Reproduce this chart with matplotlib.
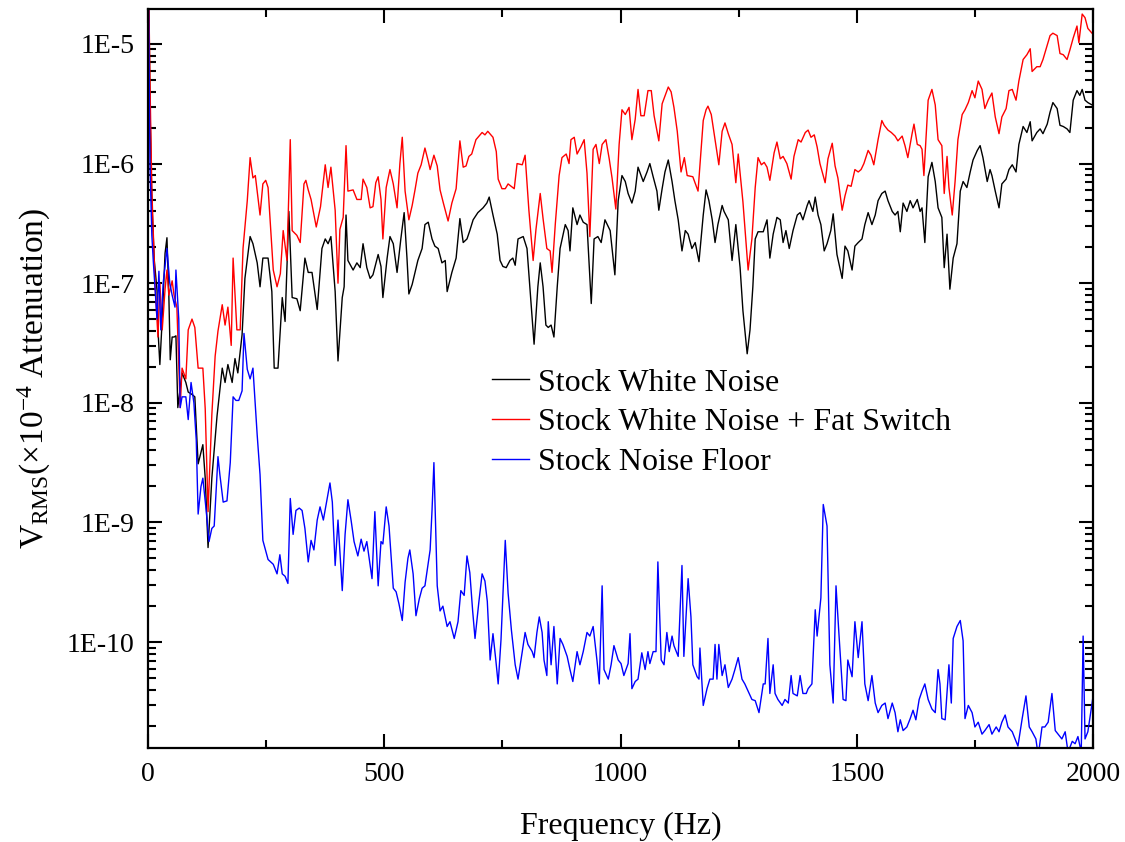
import numpy as np
import matplotlib
matplotlib.use('Agg')
import matplotlib.pyplot as plt
from matplotlib.ticker import LogLocator, NullFormatter, FuncFormatter, MultipleLocator

plt.rcParams['font.family'] = ['Liberation Serif', 'DejaVu Serif']
plt.rcParams['mathtext.fontset'] = 'custom'
plt.rcParams['mathtext.rm'] = 'Liberation Serif'
plt.rcParams['mathtext.it'] = 'Liberation Serif:italic'

# frequencies (Hz) and log10(V_RMS)
black_f = [0, 2, 4, 8, 13, 19, 21, 25, 30, 36,
           40, 44, 47, 51, 55, 59, 63, 72, 80, 85,
           93, 99, 106, 116, 121, 127, 135, 146, 157, 163,
           169, 178, 184, 190, 199, 205, 216, 222, 231, 237,
           243, 254, 262, 267, 275, 284, 290, 298, 305, 315,
           322, 332, 339, 347, 358, 368, 375, 381, 387, 396,
           402, 411, 415, 419, 423, 434, 442, 449, 455, 463,
           470, 476, 487, 493, 497, 506, 512, 519, 527, 535,
           542, 548, 552, 559, 565, 571, 580, 586, 593, 601,
           607, 614, 622, 629, 633, 643, 652, 660, 667, 675,
           681, 688, 698, 709, 717, 722, 730, 739, 745, 751,
           758, 766, 772, 777, 783, 794, 802, 808, 817, 825,
           830, 836, 842, 847, 853, 859, 866, 872, 883, 889,
           893, 899, 908, 914, 921, 929, 938, 944, 952, 959,
           967, 978, 988, 995, 1003, 1010, 1016, 1024, 1031, 1037,
           1048, 1056, 1062, 1069, 1077, 1081, 1088, 1094, 1101, 1109,
           1115, 1122, 1130, 1137, 1143, 1151, 1158, 1166, 1175, 1181,
           1187, 1194, 1200, 1206, 1215, 1219, 1228, 1236, 1244, 1253,
           1259, 1268, 1274, 1280, 1285, 1291, 1302, 1310, 1316, 1323,
           1331, 1338, 1344, 1350, 1357, 1365, 1374, 1380, 1386, 1395,
           1399, 1407, 1412, 1418, 1424, 1431, 1437, 1445, 1450, 1458,
           1469, 1475, 1481, 1490, 1496, 1503, 1511, 1517, 1524, 1532,
           1539, 1545, 1553, 1560, 1566, 1575, 1581, 1587, 1592, 1598,
           1606, 1613, 1619, 1628, 1634, 1638, 1644, 1651, 1659, 1666,
           1672, 1680, 1685, 1691, 1697, 1704, 1712, 1719, 1725, 1733,
           1740, 1746, 1755, 1761, 1767, 1776, 1782, 1786, 1793, 1801,
           1807, 1816, 1822, 1829, 1837, 1843, 1852, 1860, 1867, 1871,
           1881, 1888, 1894, 1903, 1909, 1915, 1924, 1930, 1937, 1945,
           1951, 1958, 1966, 1972, 1977, 1983, 1989, 1998, 2000]
black_lg = [-4.3, -4.7, -5.5, -6.31, -6.8, -7.06, -7.39, -7.68, -7.3, -6.75,
            -6.62, -7.1, -7.64, -7.45, -7.45, -7.44, -8.04, -7.75, -7.83, -7.91,
            -7.93, -7.95, -8.51, -8.35, -8.63, -9.21, -8.63, -8.11, -7.71, -7.83,
            -7.68, -7.83, -7.63, -7.75, -7.43, -6.96, -6.61, -6.67, -6.83, -7.03,
            -6.79, -6.79, -7.07, -7.71, -7.71, -7.12, -7.32, -6.40, -7.12, -7.13,
            -7.23, -6.79, -6.91, -6.91, -7.22, -6.71, -6.63, -6.67, -6.61, -7.07,
            -7.65, -7.12, -7.03, -6.43, -6.81, -6.89, -6.83, -6.87, -6.67, -6.87,
            -6.96, -6.93, -6.76, -6.86, -7.12, -6.79, -6.61, -6.67, -6.91, -6.63,
            -6.41, -6.79, -7.09, -7.01, -6.91, -6.81, -6.71, -6.51, -6.49, -6.63,
            -6.69, -6.71, -6.83, -6.81, -7.07, -6.91, -6.79, -6.46, -6.66, -6.63,
            -6.56, -6.47, -6.41, -6.37, -6.33, -6.28, -6.43, -6.59, -6.81, -6.86,
            -6.87, -6.81, -6.79, -6.85, -6.63, -6.61, -6.71, -7.03, -7.51, -7.03,
            -6.83, -7.03, -7.35, -7.37, -7.35, -7.45, -7.03, -6.71, -6.51, -6.56,
            -6.73, -6.37, -6.51, -6.43, -6.49, -6.51, -7.17, -6.63, -6.61, -6.66,
            -6.47, -6.56, -6.93, -6.31, -6.10, -6.15, -6.25, -6.33, -6.23, -6.03,
            -6.15, -6.07, -6.00, -6.11, -6.23, -6.39, -6.21, -6.07, -5.97, -6.15,
            -6.31, -6.47, -6.73, -6.56, -6.59, -6.71, -6.66, -6.82, -6.43, -6.22,
            -6.31, -6.47, -6.66, -6.51, -6.35, -6.40, -6.47, -6.81, -6.51, -6.87,
            -7.23, -7.59, -7.39, -7.03, -6.63, -6.57, -6.57, -6.47, -6.79, -6.59,
            -6.45, -6.47, -6.66, -6.56, -6.71, -6.56, -6.43, -6.41, -6.47, -6.35,
            -6.31, -6.40, -6.28, -6.43, -6.51, -6.73, -6.67, -6.56, -6.42, -6.76,
            -6.96, -6.69, -6.73, -6.89, -6.69, -6.66, -6.63, -6.51, -6.41, -6.51,
            -6.43, -6.31, -6.25, -6.23, -6.31, -6.40, -6.43, -6.40, -6.57, -6.33,
            -6.40, -6.31, -6.37, -6.30, -6.40, -6.37, -6.66, -6.11, -5.99, -6.15,
            -6.37, -6.45, -6.87, -6.59, -7.05, -6.79, -6.67, -6.23, -6.15, -6.20,
            -6.07, -5.97, -5.89, -5.85, -5.95, -6.15, -6.05, -6.10, -6.23, -6.37,
            -6.17, -6.13, -6.05, -6.01, -6.07, -5.84, -5.69, -5.74, -5.65, -5.81,
            -5.74, -5.71, -5.75, -5.67, -5.57, -5.49, -5.54, -5.68, -5.69, -5.71,
            -5.74, -5.47, -5.39, -5.43, -5.38, -5.47, -5.49, -5.51, -5.50]

red_f = [0, 2, 4, 8, 15, 21, 25, 30, 36, 40,
         44, 51, 55, 61, 68, 72, 80, 85, 93, 99,
         106, 116, 121, 127, 135, 142, 148, 157, 163, 169,
         176, 180, 188, 195, 201, 210, 216, 222, 227, 237,
         243, 249, 254, 265, 273, 280, 286, 294, 301, 305,
         315, 322, 330, 334, 339, 345, 356, 365, 375, 381,
         387, 396, 402, 406, 413, 419, 423, 434, 442, 451,
         455, 463, 470, 476, 482, 487, 493, 497, 504, 512,
         519, 527, 533, 538, 544, 552, 559, 565, 571, 578,
         586, 593, 597, 605, 612, 618, 625, 635, 643, 652,
         660, 667, 673, 679, 685, 694, 707, 713, 719, 730,
         737, 741, 749, 756, 762, 775, 781, 792, 798, 806,
         815, 821, 830, 836, 844, 851, 855, 862, 870, 876,
         885, 891, 895, 902, 908, 916, 923, 929, 935, 942,
         948, 955, 961, 969, 976, 982, 990, 997, 1003, 1010,
         1018, 1024, 1031, 1037, 1043, 1050, 1058, 1065, 1071, 1081,
         1088, 1101, 1107, 1113, 1120, 1128, 1135, 1141, 1153, 1164,
         1175, 1181, 1185, 1192, 1200, 1208, 1215, 1221, 1228, 1236,
         1244, 1249, 1259, 1266, 1270, 1278, 1285, 1291, 1298, 1304,
         1310, 1316, 1325, 1331, 1338, 1344, 1352, 1361, 1367, 1376,
         1382, 1391, 1397, 1403, 1410, 1416, 1422, 1433, 1439, 1448,
         1454, 1460, 1469, 1475, 1481, 1488, 1496, 1503, 1509, 1515,
         1524, 1530, 1536, 1545, 1553, 1558, 1566, 1573, 1581, 1587,
         1596, 1602, 1608, 1617, 1621, 1628, 1634, 1638, 1642, 1651,
         1659, 1666, 1672, 1680, 1685, 1691, 1695, 1702, 1708, 1714,
         1723, 1729, 1736, 1744, 1750, 1757, 1765, 1771, 1778, 1786,
         1793, 1801, 1807, 1816, 1822, 1829, 1837, 1843, 1852, 1860,
         1867, 1871, 1881, 1888, 1894, 1903, 1909, 1915, 1924, 1930,
         1937, 1945, 1951, 1958, 1966, 1970, 1977, 1983, 1989, 1998,
         2000]
red_lg = [-4.3, -4.7, -5.3, -6.22, -7.03, -7.45, -7.0, -7.39, -7.05, -6.89,
          -7.1, -6.98, -7.1, -7.2, -8.04, -7.71, -7.8, -7.39, -7.30, -7.37,
          -7.71, -7.71, -8.05, -8.91, -8.1, -7.61, -7.4, -7.18, -7.35, -7.2,
          -7.52, -6.79, -7.39, -7.39, -6.71, -6.31, -5.95, -6.12, -6.1, -6.43,
          -6.17, -6.14, -6.2, -6.89, -7.03, -6.92, -6.56, -6.81, -5.80, -6.56,
          -6.6, -6.66, -6.17, -6.14, -6.22, -6.3, -6.53, -6.36, -6.01, -6.2,
          -6.03, -6.39, -7.0, -6.55, -6.45, -5.85, -6.23, -6.22, -6.3, -6.30,
          -6.13, -6.2, -6.37, -6.36, -6.16, -6.11, -6.3, -6.63, -6.2, -6.05,
          -6.17, -6.37, -6.0, -5.78, -6.23, -6.47, -6.35, -6.22, -6.08, -6.01,
          -5.87, -5.98, -6.05, -5.93, -6.02, -6.22, -6.33, -6.48, -6.33, -6.21,
          -5.81, -6.03, -6.02, -5.94, -5.92, -5.80, -5.74, -5.76, -5.73, -5.78,
          -5.9, -6.13, -6.21, -6.21, -6.17, -6.21, -6.00, -6.01, -5.93, -6.39,
          -6.81, -6.55, -6.25, -6.46, -6.71, -6.73, -6.91, -6.5, -6.10, -5.95,
          -5.92, -6.0, -5.8, -5.78, -5.92, -5.86, -5.80, -6.08, -6.61, -5.88,
          -5.84, -6.0, -5.84, -5.80, -5.96, -6.12, -6.38, -5.84, -5.55, -5.59,
          -5.53, -5.80, -5.63, -5.38, -5.6, -5.6, -5.39, -5.39, -5.6, -5.81,
          -5.5, -5.36, -5.4, -5.53, -5.73, -6.07, -5.95, -6.1, -6.11, -6.23,
          -5.64, -5.55, -5.52, -5.59, -5.8, -6.01, -5.73, -5.66, -5.75, -5.84,
          -6.16, -5.92, -6.32, -6.68, -6.89, -6.63, -6.2, -5.95, -6.01, -5.99,
          -6.03, -6.14, -5.91, -5.82, -5.96, -5.94, -6.0, -6.13, -5.94, -5.80,
          -5.82, -5.74, -5.72, -5.78, -5.76, -5.86, -6.0, -6.16, -5.96, -5.83,
          -6.02, -6.12, -6.39, -6.27, -6.18, -6.19, -6.05, -6.07, -6.05, -6.0,
          -5.89, -5.93, -6.01, -5.80, -5.64, -5.68, -5.72, -5.74, -5.77, -5.81,
          -5.77, -5.85, -5.95, -5.75, -5.67, -5.84, -5.85, -5.88, -6.10, -5.47,
          -5.38, -5.51, -5.80, -5.85, -6.25, -5.94, -6.20, -6.43, -6.15, -5.80,
          -5.59, -5.55, -5.49, -5.39, -5.45, -5.31, -5.38, -5.54, -5.47, -5.41,
          -5.61, -5.75, -5.61, -5.54, -5.39, -5.38, -5.47, -5.31, -5.13, -5.09,
          -5.04, -5.23, -5.19, -5.19, -5.13, -5.01, -4.93, -4.91, -4.93, -5.08,
          -5.09, -5.13, -5.05, -4.95, -4.85, -4.99, -4.75, -4.78, -4.87, -4.91,
          -4.92]

blue_f = [0, 2, 4, 8, 11, 19, 23, 27, 32, 40,
          46, 51, 57, 59, 65, 68, 72, 80, 85, 91,
          97, 102, 106, 112, 116, 123, 129, 135, 140, 148,
          152, 159, 167, 174, 180, 186, 192, 199, 203, 210,
          216, 222, 231, 237, 243, 254, 265, 273, 279, 284,
          290, 296, 301, 307, 313, 320, 326, 332, 339, 345,
          351, 358, 364, 371, 385, 390, 396, 402, 411, 417,
          423, 430, 436, 444, 451, 457, 463, 474, 480, 487,
          493, 497, 504, 510, 519, 525, 531, 538, 544, 550,
          554, 561, 567, 574, 580, 586, 597, 601, 605, 612,
          618, 624, 633, 639, 648, 656, 662, 669, 675, 681,
          687, 692, 700, 707, 713, 718, 724, 730, 736, 741,
          747, 756, 762, 769, 777, 783, 792, 798, 804, 813,
          817, 823, 828, 834, 838, 844, 847, 853, 859, 866,
          872, 878, 887, 893, 899, 908, 914, 921, 929, 935,
          942, 950, 955, 961, 965, 974, 980, 986, 995, 1001,
          1007, 1016, 1020, 1024, 1031, 1037, 1045, 1052, 1058, 1062,
          1069, 1075, 1079, 1086, 1092, 1098, 1103, 1109, 1113, 1122,
          1130, 1134, 1143, 1149, 1153, 1162, 1166, 1168, 1175, 1183,
          1189, 1196, 1200, 1204, 1208, 1215, 1221, 1228, 1236, 1242,
          1249, 1257, 1263, 1270, 1278, 1285, 1293, 1302, 1306, 1312,
          1316, 1323, 1327, 1333, 1342, 1348, 1355, 1361, 1365, 1374,
          1380, 1386, 1393, 1397, 1405, 1412, 1416, 1424, 1429, 1437,
          1443, 1450, 1456, 1462, 1471, 1477, 1481, 1490, 1496, 1503,
          1511, 1517, 1524, 1532, 1539, 1545, 1553, 1560, 1566, 1575,
          1581, 1587, 1592, 1598, 1606, 1613, 1619, 1625, 1632, 1638,
          1644, 1651, 1659, 1666, 1672, 1676, 1680, 1687, 1695, 1700,
          1704, 1712, 1719, 1725, 1729, 1736, 1744, 1750, 1757, 1765,
          1771, 1780, 1786, 1795, 1801, 1807, 1814, 1820, 1829, 1833,
          1841, 1850, 1858, 1865, 1871, 1879, 1884, 1892, 1898, 1905,
          1913, 1920, 1926, 1934, 1941, 1947, 1956, 1962, 1968, 1975,
          1979, 1983, 1989, 1998, 2000]
blue_lg = [-4.3, -5.0, -6.0, -6.6, -6.81, -7.3, -6.9, -7.39, -7.0, -6.71,
           -7.0, -7.1, -7.2, -6.89, -7.3, -8.04, -7.95, -7.95, -8.14, -7.83,
           -8.0, -8.31, -8.93, -8.7, -8.63, -8.9, -9.16, -9.05, -9.03, -8.45,
           -8.6, -8.83, -8.82, -8.5, -7.95, -7.98, -7.98, -7.9, -7.42, -7.72,
           -7.8, -7.71, -8.27, -8.6, -9.15, -9.31, -9.35, -9.43, -9.27, -9.43,
           -9.45, -9.51, -8.80, -9.1, -8.9, -8.88, -8.9, -9.05, -9.33, -9.15,
           -9.23, -8.98, -8.87, -8.98, -8.67, -8.83, -9.36, -8.98, -9.57, -9.1,
           -8.81, -8.99, -9.16, -9.28, -9.14, -9.24, -9.16, -9.47, -8.91, -9.53,
           -9.16, -9.18, -8.87, -9.03, -9.55, -9.58, -9.68, -9.82, -9.5, -9.3,
           -9.23, -9.43, -9.78, -9.64, -9.55, -9.53, -9.23, -8.9, -8.50, -9.53,
           -9.74, -9.7, -9.87, -9.83, -9.97, -9.83, -9.57, -9.61, -9.28, -9.42,
           -9.74, -9.97, -9.67, -9.43, -9.49, -9.66, -10.15, -9.93, -10.15, -10.35,
           -9.98, -9.15, -9.59, -9.9, -10.19, -10.31, -10.08, -9.92, -10.02, -10.08,
           -10.13, -9.92, -9.79, -9.92, -10.15, -10.28, -9.83, -10.19, -9.87, -10.35,
           -9.97, -10.02, -10.12, -10.23, -10.33, -10.08, -10.19, -10.08, -9.92, -9.95,
           -9.87, -10.15, -10.35, -9.53, -10.23, -10.31, -10.19, -10.03, -10.15, -10.18,
           -10.28, -10.18, -9.93, -10.39, -10.33, -10.31, -10.09, -10.23, -10.08, -10.18,
           -10.08, -10.08, -9.33, -10.15, -10.19, -9.92, -10.08, -9.95, -10.03, -10.12,
           -9.36, -10.12, -9.47, -9.79, -10.19, -10.29, -10.31, -10.05, -10.53, -10.39,
           -10.31, -10.31, -10.02, -10.31, -10.02, -10.28, -10.19, -10.38, -10.31, -10.23,
           -10.13, -10.31, -10.35, -10.41, -10.48, -10.49, -10.59, -10.35, -10.35, -9.97,
           -10.43, -10.19, -10.43, -10.48, -10.53, -10.48, -10.51, -10.28, -10.43, -10.45,
           -10.28, -10.43, -10.43, -10.39, -10.35, -9.73, -9.95, -9.63, -8.85, -9.03,
           -10.19, -10.51, -9.53, -9.92, -10.48, -10.49, -10.15, -10.29, -9.83, -10.13,
           -9.83, -10.35, -10.49, -10.28, -10.51, -10.59, -10.53, -10.51, -10.64, -10.51,
           -10.59, -10.75, -10.65, -10.74, -10.71, -10.64, -10.57, -10.65, -10.48, -10.41,
           -10.35, -10.48, -10.56, -10.59, -10.23, -10.35, -10.64, -10.65, -10.19, -10.51,
           -9.97, -9.87, -9.82, -9.99, -10.64, -10.53, -10.59, -10.71, -10.67, -10.77,
           -10.74, -10.69, -10.77, -10.71, -10.75, -10.67, -10.61, -10.71, -10.75, -10.79,
           -10.87, -10.64, -10.45, -10.71, -10.75, -10.81, -10.95, -10.71, -10.71, -10.67,
           -10.43, -10.74, -10.77, -10.81, -10.75, -10.92, -10.83, -10.85, -10.79, -10.92,
           -9.95, -10.81, -10.75, -10.51, -10.45]

labels = ['Stock White Noise', 'Stock White Noise + Fat Switch', 'Stock Noise Floor']
colors = ['black', 'red', 'blue']

fig = plt.figure(figsize=(11.25, 8.42), dpi=100)
ax = fig.add_axes([0.1316, 0.1116, 0.84, 0.8777])

series = [(black_f, black_lg), (red_f, red_lg), (blue_f, blue_lg)]
for (f, lg), c, lab in zip(series, colors, labels):
    ax.plot(f, 10.0 ** np.array(lg), color=c, lw=1.0, label=lab)

ax.set_yscale('log')
ax.set_xlim(0, 2000)
ax.set_ylim(1.3e-11, 1.96e-5)

ax.xaxis.set_major_locator(MultipleLocator(500))
ax.xaxis.set_minor_locator(MultipleLocator(250))
ax.yaxis.set_major_locator(LogLocator(base=10, numticks=20))
ax.yaxis.set_minor_locator(LogLocator(base=10, subs=np.arange(2, 10), numticks=20))
ax.yaxis.set_minor_formatter(NullFormatter())
ax.yaxis.set_major_formatter(FuncFormatter(lambda v, p: '1E%d' % round(np.log10(v))))

ax.tick_params(which='both', direction='in', top=True, right=True, width=1.5, labelsize=20)
ax.tick_params(which='major', length=10, pad=10)
ax.tick_params(which='minor', length=5.5)
for s in ax.spines.values():
    s.set_linewidth(1.6)

ax.set_xlabel('Frequency (Hz)', fontsize=23, labelpad=18)
ax.set_ylabel(r'$\mathrm{V_{RMS}(\times10^{-4}\ Attenuation)}$', fontsize=24, labelpad=10)

ax.legend(loc='upper left', bbox_to_anchor=(0.4373, 0.5627), bbox_transform=fig.transFigure,
          frameon=False, fontsize=23, handlelength=1.15, handletextpad=0.3,
          labelspacing=0.32, borderpad=0, borderaxespad=0)

fig.savefig('out.png', dpi=100)
